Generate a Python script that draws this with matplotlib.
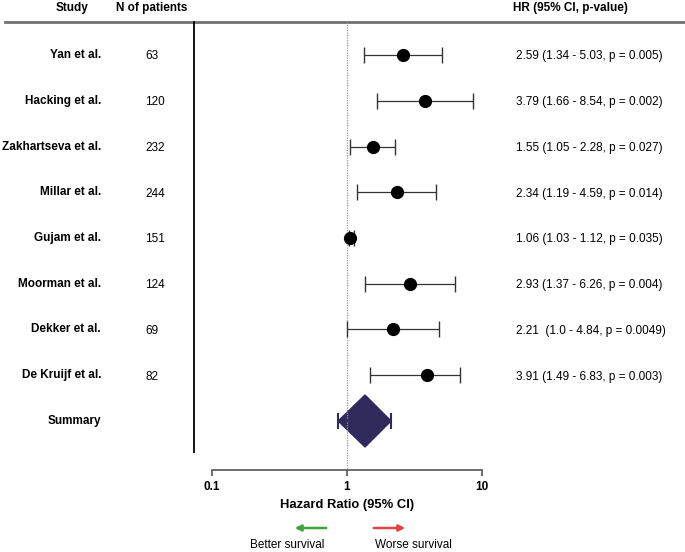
import matplotlib
matplotlib.use("Agg")
import matplotlib.pyplot as plt
import matplotlib.transforms as mtransforms
import numpy as np

plt.rcParams['font.family'] = ['Liberation Sans', 'DejaVu Sans']

studies = ["Yan et al.", "Hacking et al.", "Zakhartseva et al.", "Millar et al.",
           "Gujam et al.", "Moorman et al.", "Dekker et al.", "De Kruijf et al."]
n_patients = ["63", "120", "232", "244", "151", "124", "69", "82"]
hr = [2.59, 3.79, 1.55, 2.34, 1.06, 2.93, 2.21, 3.91]
lo = [1.34, 1.66, 1.05, 1.19, 1.03, 1.37, 1.00, 1.49]
hi = [5.03, 8.54, 2.28, 4.59, 1.12, 6.26, 4.84, 6.83]
hr_text = ["2.59 (1.34 - 5.03, p = 0.005)", "3.79 (1.66 - 8.54, p = 0.002)",
           "1.55 (1.05 - 2.28, p = 0.027)", "2.34 (1.19 - 4.59, p = 0.014)",
           "1.06 (1.03 - 1.12, p = 0.035)", "2.93 (1.37 - 6.26, p = 0.004)",
           "2.21  (1.0 - 4.84, p = 0.0049)", "3.91 (1.49 - 6.83, p = 0.003)"]
summary_hr = 1.36
summary_lo = 0.86
summary_hi = 2.12
xticks = [0.1, 1, 10]
xtick_labels = ["0.1", "1", "10"]

FS = 8.5
W, H = 685, 552
fig = plt.figure(figsize=(W / 100, H / 100), dpi=100)
ax = fig.add_axes([0, 0, 1, 1])
ax.set_xscale('log')
# pixel mapping: x=1 at px 347, 135 px per decade; row 0 at px 55, 45.75 px per row
px_dec = 135.0
x1 = 347.0
ax.set_xlim(10 ** (-x1 / px_dec), 10 ** ((W - x1) / px_dec))
row0 = 55.0
rowh = 45.75
ax.set_ylim((H - row0) / rowh, -row0 / rowh)

def py(p):  # pixel y -> data row
    return (p - row0) / rowh

ypos = np.arange(len(studies))
summary_y = len(studies)

for s in ['left', 'right', 'top']:
    ax.spines[s].set_visible(False)
ax.patch.set_alpha(0)

# bottom axis
ax.spines['bottom'].set_position(('data', py(470)))
ax.spines['bottom'].set_bounds(0.1, 10)
ax.spines['bottom'].set_color('#555555')
ax.spines['bottom'].set_linewidth(1.2)
ax.set_xticks(xticks)
ax.set_xticklabels(xtick_labels, fontweight='bold', fontsize=FS)
ax.xaxis.set_minor_locator(matplotlib.ticker.NullLocator())
ax.tick_params(axis='x', direction='out', length=4, width=1.2, color='#555555', pad=4)
ax.set_yticks([])

blend = mtransforms.blended_transform_factory(ax.transAxes, ax.transData)

def fx(p):
    return p / W

# top horizontal rule
ax.plot([fx(5), fx(685)], [py(22), py(22)], transform=blend, color='#707070', lw=2, clip_on=False)
# vertical separator
ax.plot([fx(194), fx(194)], [py(22), py(452)], transform=blend, color='black', lw=1.3)
# reference line
ax.plot([1, 1], [py(22), py(470)], color='#999999', lw=0.9, ls=(0, (1, 1)))

# headers
hy = py(8)
ax.text(fx(72), hy, "Study", transform=blend, ha='center', va='center', fontweight='bold', fontsize=FS)
ax.text(fx(152), hy, "N of patients", transform=blend, ha='center', va='center', fontweight='bold', fontsize=FS)
ax.text(fx(513), hy, "HR (95% CI, p-value)", transform=blend, ha='left', va='center', fontweight='bold', fontsize=FS)

# error bars and points
xerr = [np.array(hr) - np.array(lo), np.array(hi) - np.array(hr)]
ax.errorbar(hr, ypos, xerr=xerr, fmt='o', color='black', ecolor='#333333', ms=8.5, capsize=6,
            elinewidth=0.9, capthick=1.0)

for i in range(len(studies)):
    ax.text(fx(101), ypos[i], studies[i], transform=blend, ha='right', va='center', fontweight='bold', fontsize=FS)
    ax.text(fx(145), ypos[i] + 0.03, n_patients[i], transform=blend, ha='left', va='center', fontsize=FS)
    ax.text(fx(516), ypos[i] + 0.03, hr_text[i], transform=blend, ha='left', va='center', fontsize=FS)

ax.text(fx(101), summary_y, "Summary", transform=blend, ha='right', va='center', fontweight='bold', fontsize=FS)

# summary diamond
dh = 26 / rowh
diamond = plt.Polygon([[summary_lo, summary_y], [summary_hr, summary_y - dh],
                       [summary_hi, summary_y], [summary_hr, summary_y + dh]],
                      closed=True, facecolor='#302a5c', edgecolor='#302a5c')
ax.add_patch(diamond)
ax.errorbar([summary_hr], [summary_y], xerr=[[summary_hr - summary_lo], [summary_hi - summary_hr]],
            fmt='none', ecolor='#302a5c', capsize=6, elinewidth=1.2, capthick=1.5)

# axis label
ax.text(1, py(505), "Hazard Ratio (95% CI)", ha='center', va='center', fontweight='bold', fontsize=9.4)

# arrows
ay = py(528)
ax.annotate("", xy=(fx(292), ay), xytext=(fx(329), ay), xycoords=blend, textcoords=blend,
            arrowprops=dict(arrowstyle='-|>', color='#3aa53a', lw=1.8, mutation_scale=9))
ax.annotate("", xy=(fx(408), ay), xytext=(fx(371), ay), xycoords=blend, textcoords=blend,
            arrowprops=dict(arrowstyle='-|>', color='#e04545', lw=1.8, mutation_scale=9))
ax.text(fx(287), py(545), "Better survival", transform=blend, ha='center', va='center', fontsize=FS)
ax.text(fx(413), py(545), "Worse survival", transform=blend, ha='center', va='center', fontsize=FS)

fig.savefig("out.png", dpi=100)
